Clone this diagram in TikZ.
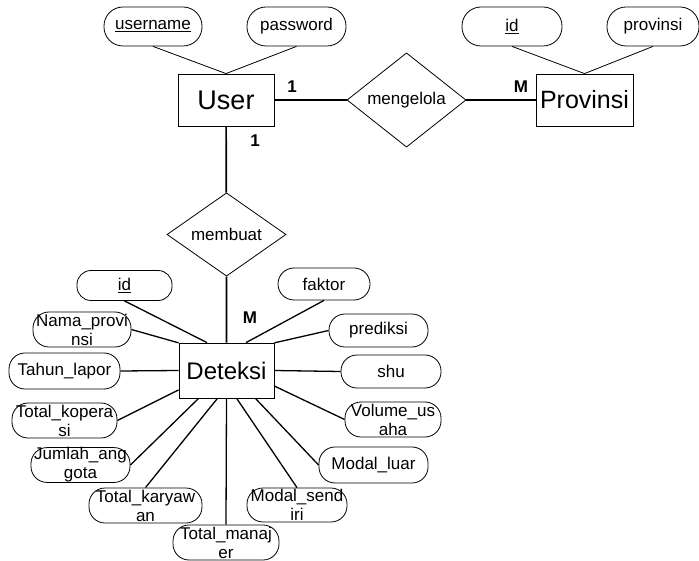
\documentclass[tikz,border=0pt]{standalone}
\usepackage{fontspec}
\setmainfont{Liberation Sans}
\usetikzlibrary{shapes.geometric}
\newcommand\attrfont{\fontsize{17}{19}\selectfont}
\newcommand\entfont{\fontsize{25}{25}\selectfont}

\begin{document}
\begin{tikzpicture}[x=1pt, y=-1pt,
		ent/.style={draw, line width=0.8pt, minimum width=96pt, minimum height=52pt, inner sep=0pt, font=\entfont},
		rel/.style={draw, diamond, line width=0.8pt, minimum width=119pt, minimum height=72pt, inner sep=0pt, font=\attrfont},
		attr/.style={draw, line width=0.8pt, rounded corners=16pt, minimum height=34pt, inner sep=0pt, align=center, font=\attrfont},
		attrtop/.style={attr, minimum height=39pt, rounded corners=19pt},
		card/.style={font=\bfseries\fontsize{17}{17}\selectfont},
		thinln/.style={line width=0.8pt},
		relln/.style={line width=1.7pt},
		attln/.style={line width=1.3pt}]
				\useasboundingbox (0,0) rectangle (699,561);
				% entities and relationships
				\node[ent, font=\fontsize{27}{27}\selectfont] (user) at (226,100) {User};
				\node[ent, minimum width=97pt] (prov) at (584.5,100) {Provinsi};
				\node[ent, minimum width=95pt, minimum height=55pt, font=\fontsize{24}{24}\selectfont] (det) at (226.5,370.5) {Deteksi};
				\node[rel] (kelola) at (406.5,100) {mengelola};
				\node[rel, minimum height=71pt] (buat) at (226.5,234.5) {membuat};
				% attributes of User and Provinsi
				\node[attrtop, minimum width=98pt] (uname) at (153,26.5) {\underline{username}};
				\node[attrtop, minimum width=99pt] (upass) at (296.5,26.5) {password};
				\node[attrtop, minimum width=100pt] (pid) at (512,26.5) {\underline{id}};
				\node[attrtop, minimum width=92pt] (pname) at (653,26.5) {provinsi};
				% attributes of Deteksi
				\node[attr, minimum width=95pt, minimum height=30pt, rounded corners=14pt] (did) at (124.5,285.5) {\underline{id}};
				\node[attr, minimum width=98pt, minimum height=35pt] (dnama) at (82,329.5) {Nama\_provi\\nsi};
				\node[attr, minimum width=111pt, minimum height=36pt] (dtahun) at (64.5,371) {Tahun\_lapor};
				\node[attr, minimum width=105pt, minimum height=35pt] (dkop) at (64.5,420.5) {Total\_kopera\\si};
				\node[attr, minimum width=99pt] (djml) at (80.5,465) {Jumlah\_ang\\gota};
				\node[attr, minimum width=113pt, minimum height=35pt] (dkary) at (145.5,505.5) {Total\_karyaw\\an};
				\node[attr, minimum width=106pt, minimum height=35pt] (dman) at (226,542.5) {Total\_manaj\\er};
				\node[attr, minimum width=92pt, minimum height=32pt] (dfak) at (324,284) {faktor};
				\node[attr, minimum width=99pt, minimum height=33pt] (dpred) at (378.5,330.5) {prediksi};
				\node[attr, minimum width=100pt, minimum height=33pt] (dshu) at (391,371.5) {shu};
				\node[attr, minimum width=96pt, minimum height=35pt] (dvol) at (393,419.5) {Volume\_us\\aha};
				\node[attr, minimum width=109pt, minimum height=36pt] (dluar) at (373.5,465) {Modal\_luar};
				\node[attr, minimum width=100pt] (dsend) at (297,505) {Modal\_send\\iri};
				% connectors
				\foreach \a/\b in {uname.south/user.north, upass.south/user.north, pid.south/prov.north, pname.south/prov.north}
					\draw[thinln] (\a) -- (\b);
				\draw[relln] (user) -- (kelola) (kelola) -- (prov);
				\draw[relln] (user) -- (buat) (buat) -- (det);
				\foreach \a/\b in {did.south/det.125, dnama.east/det.150, dtahun.east/det.west, dkop.east/det.202,
						djml.east/det.225, dkary.north/det.252, dman.north/det.south, dfak.south/det.55,
						dpred.west/det.30, dshu.west/det.east, dvol.west/det.-18, dluar.west/det.-44, dsend.north/det.-70}
					\draw[attln] (\a) -- (\b);
				% cardinalities
				\node[card] (c1) at (292,87) {1};
				\node[card] (c2) at (521,87) {M};
				\node[card] (c3) at (255,141) {1};
				\node[card] (c4) at (250,318) {M};
			\end{tikzpicture}
\end{document}
